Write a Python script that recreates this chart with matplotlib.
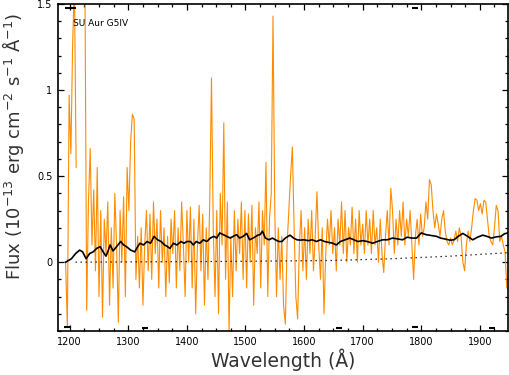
"""
SU Aur G5IV far-UV spectrum with smoothed template and error level.
"""

import matplotlib
matplotlib.use("Agg")

import matplotlib.pyplot as plt
import numpy as np
from matplotlib.ticker import MultipleLocator

nan = np.nan

# observed flux, sampled every 3 A starting at 1193 A (10^-13 erg/cm2/s/A)
spec_flux = [
    0.0, -0.38, 0.97, 0.63, 1.27, 1.62, 0.55, nan, nan, nan,          # 1193
    nan, 1.62, -0.28, 0.35, 0.66, 0.1, 0.42, -0.05, 0.55, -0.2,       # 1223
    0.3, -0.32, 0.25, 0.05, 0.35, -0.25, 0.2, -0.15, 0.4, 0.1,        # 1253
    -0.35, 0.3, 0.0, 0.38, -0.2, 0.55, 0.3, 0.7, 0.86, 0.83,          # 1283
    -0.1, 0.15, -0.15, 0.2, -0.25, 0.1, 0.3, -0.05, 0.28, -0.1,       # 1313
    0.35, 0.05, 0.25, -0.15, 0.3, 0.0, 0.2, -0.2, 0.15, -0.12,        # 1343
    0.25, 0.05, 0.3, -0.15, 0.2, -0.05, 0.35, 0.1, -0.2, 0.3,         # 1373
    0.0, 0.32, -0.15, 0.25, -0.3, 0.1, 0.33, -0.05, 0.28, -0.25,      # 1403
    0.2, -0.1, 0.35, 1.07, 0.2, -0.2, 0.3, -0.3, 0.4, 0.1,            # 1433
    0.81, -0.1, 0.35, -0.4, 0.15, -0.2, 0.3, -0.05, 0.25, 0.05,       # 1463
    0.35, -0.1, 0.3, -0.15, 0.28, 0.0, 0.33, -0.25, 0.2, 0.05,        # 1493
    0.35, -0.15, 0.3, 0.1, 0.58, -0.2, 0.25, 0.4, 1.43, 0.3,          # 1523
    -0.2, 0.2, -0.1, 0.15, -0.25, -0.36, 0.1, 0.3, 0.5, 0.67,         # 1553
    0.2, -0.2, -0.33, 0.1, 0.3, -0.05, 0.2, -0.1, 0.25, 0.05,         # 1583
    0.3, -0.05, 0.15, 0.41, 0.1, -0.1, 0.2, -0.3, 0.05, 0.25,         # 1613
    0.1, 0.3, 0.05, 0.2, -0.05, 0.25, 0.1, 0.35, 0.05, 0.3,           # 1643
    0.0, 0.2, 0.1, 0.32, 0.05, 0.25, 0.0, 0.3, 0.1, 0.22,             # 1673
    0.05, 0.3, 0.1, 0.25, 0.05, 0.3, 0.1, 0.2, 0.0, 0.25,             # 1703
    0.05, -0.06, 0.15, 0.3, 0.1, 0.43, 0.3, 0.05, 0.25, 0.1,          # 1733
    0.3, 0.15, 0.35, 0.1, 0.25, 0.15, 0.3, 0.1, -0.1, 0.15,           # 1763
    0.25, 0.1, 0.28, 0.15, 0.2, 0.35, 0.25, 0.48, 0.45, 0.3,          # 1793
    0.2, 0.28, 0.22, 0.15, 0.25, 0.3, 0.18, 0.12, 0.1, 0.14,          # 1823
    0.1, 0.13, 0.18, 0.12, 0.2, 0.15, 0.0, -0.05, 0.1, 0.18,          # 1853
    0.12, 0.2, 0.3, 0.37, 0.36, 0.3, 0.34, 0.28, 0.36, 0.35,          # 1883
    0.25, 0.15, 0.12, 0.1, 0.2, 0.33, 0.3, 0.12, 0.15, 0.1,           # 1913
    0.06, -0.15,                                                      # 1943
]
spec_wave = np.arange(1193, 1193 + 3 * len(spec_flux), 3)

# smoothed template (black line)
tmpl_wave = [
    1193, 1198, 1203, 1210, 1217, 1222, 1228, 1234, 1240, 1246,
    1252, 1257, 1262, 1266, 1269, 1274, 1280, 1287, 1292, 1297,
    1304, 1311, 1316, 1320, 1326, 1332, 1338, 1344, 1350, 1356,
    1362, 1367, 1371, 1377, 1383, 1390, 1395, 1400, 1406, 1411,
    1416, 1422, 1428, 1434, 1440, 1446, 1451, 1456, 1462, 1468,
    1474, 1479, 1485, 1490, 1496, 1502, 1507, 1513, 1518, 1521,
    1525, 1529, 1534, 1540, 1546, 1551, 1557, 1562, 1568, 1576,
    1582, 1588, 1593, 1600, 1607, 1614, 1621, 1628, 1635, 1642,
    1649, 1655, 1662, 1670, 1678, 1685, 1692, 1700, 1708, 1717,
    1725, 1734, 1742, 1751, 1760, 1768, 1776, 1784, 1792, 1800,
    1808, 1817, 1826, 1833, 1840, 1849, 1856, 1863, 1871, 1879,
    1888, 1896, 1905, 1912, 1920, 1928, 1936, 1942, 1948,
]
tmpl_flux = [
    0.0, 0.01, 0.02, 0.05, 0.07, 0.06, 0.02, 0.05, 0.06, 0.08,
    0.09, 0.06, 0.035, 0.07, 0.1, 0.065, 0.09, 0.12, 0.1, 0.09,
    0.07, 0.06, 0.09, 0.11, 0.1, 0.12, 0.11, 0.15, 0.13, 0.12,
    0.1, 0.09, 0.08, 0.11, 0.1, 0.12, 0.11, 0.12, 0.12, 0.1,
    0.12, 0.11, 0.13, 0.12, 0.14, 0.15, 0.14, 0.17, 0.16, 0.15,
    0.14, 0.15, 0.16, 0.14, 0.15, 0.167, 0.13, 0.14, 0.15, 0.157,
    0.16, 0.18, 0.14, 0.13, 0.14, 0.13, 0.12, 0.12, 0.14, 0.157,
    0.14, 0.13, 0.128, 0.13, 0.125, 0.13, 0.12, 0.13, 0.12, 0.115,
    0.11, 0.1, 0.12, 0.13, 0.14, 0.13, 0.12, 0.125, 0.12, 0.11,
    0.12, 0.13, 0.13, 0.14, 0.135, 0.13, 0.145, 0.14, 0.14, 0.17,
    0.16, 0.155, 0.15, 0.14, 0.135, 0.128, 0.13, 0.15, 0.167, 0.15,
    0.13, 0.145, 0.157, 0.15, 0.14, 0.147, 0.15, 0.165, 0.17,
]

# error level (dotted line)
err_wave = [1210, 1500, 1650, 1750, 1850, 1948]
err_flux = [0.0, 0.005, 0.01, 0.02, 0.035, 0.055]

# data-quality flags along the frame
flag_wave = [1197, 1205, 1789, 1196, 1328, 1660, 1789, 1921]
flag_flux = [1.477, 1.477, 1.477, -0.375, -0.38, -0.38, -0.375, -0.38]

xticks = [1200, 1300, 1400, 1500, 1600, 1700, 1800, 1900]
yticks = [0, 0.5, 1, 1.5]
ytick_labels = ["0", "0.5", "1", "1.5"]


def main() -> None:
    fig = plt.figure(figsize=(5.1, 3.75), dpi=100)
    ax = fig.add_axes([0.1137, 0.1173, 0.8823, 0.872])

    ax.plot(spec_wave, spec_flux, color="#ff8c00", lw=0.8)
    ax.plot(err_wave, err_flux, color="black", lw=0.9, ls=(0, (1, 3)))
    ax.plot(tmpl_wave, tmpl_flux, color="black", lw=1.2)
    ax.plot(flag_wave, flag_flux, ls="none", marker="_", color="black",
            ms=4, mew=1.5)

    ax.text(1205.5, 1.384, "SU Aur G5IV", fontsize=6.5, ha="left",
            va="center")

    ax.set_xlim(1180, 1948)
    ax.set_ylim(-0.4, 1.5)
    ax.set_xticks(xticks)
    ax.set_yticks(yticks)
    ax.set_yticklabels(ytick_labels)
    ax.xaxis.set_minor_locator(MultipleLocator(25))
    ax.yaxis.set_minor_locator(MultipleLocator(0.1))
    ax.tick_params(which="both", direction="in", top=True, right=True,
                   labelsize=7, width=0.9, pad=4)
    ax.tick_params(which="major", length=4)
    ax.tick_params(which="minor", length=2.5)
    for spine in ax.spines.values():
        spine.set_linewidth(1.2)

    ax.set_xlabel("Wavelength (Å)", fontsize=13.5, color="#333333")
    ax.xaxis.set_label_coords(0.5, -0.052)
    ax.set_ylabel(r"Flux (10$^{-13}$ erg cm$^{-2}$ s$^{-1}$ Å$^{-1}$)",
                  fontsize=13, color="#333333")
    ax.yaxis.set_label_coords(-0.072, 0.565)

    fig.savefig("out.png", dpi=100)
    plt.close(fig)


if __name__ == "__main__":
    main()
